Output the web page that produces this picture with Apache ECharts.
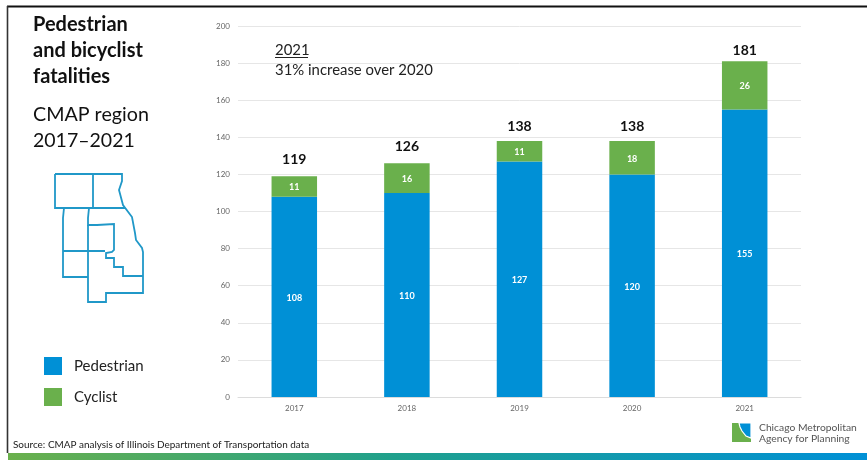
<!DOCTYPE html>
<html>
<head>
<meta charset="utf-8">
<style>html,body{margin:0;padding:0;background:#fff}#chart{width:867px;height:460px}</style>
<script src="https://cdn.jsdelivr.net/npm/echarts@6/dist/echarts.min.js"></script>
</head>
<body>
<div id="chart"></div>
<script>
// Pedestrian and cyclist fatalities by year, CMAP region
const years = ['2017', '2018', '2019', '2020', '2021'];
const pedestrian = [108, 110, 127, 120, 155];
const cyclist = [11, 16, 11, 18, 26];
const totals = [119, 126, 138, 138, 181];
const yTicks = { min: 0, max: 200, interval: 20 };

// Gap between each bar top and its total label
const totalLabelGaps = [9, 9, 7, 7, 3];

const FONT = 'Lato, "Open Sans", sans-serif';
const BLUE = '#0090d6';
const GREEN = '#6ab04c';
const MAP_BLUE = '#2098c8';

// County outlines of the seven-county region
const countyLines = [
  [[55,174],[122,174],[122,181],[119,190],[123,205],[132,217],[135,233],[136,240],[142,248],[143,252],[143,293],[106,293],[106,302],[88,302],[88,225]],
  [[93,174],[93,208]],
  [[55,174],[55,208],[125,208]],
  [[64,208],[63,218],[63,277],[88,277]],
  [[63,251],[105,251]],
  [[89,208],[88,218],[88,225],[97,225],[114,224],[114,250],[112,252],[106,253],[106,258],[114,258],[114,267],[123,267],[123,276],[143,276]]
];

const mapGraphics = countyLines.map(points => ({
  type: 'polyline',
  silent: true,
  shape: { points },
  style: { stroke: MAP_BLUE, lineWidth: 1.8, fill: null }
}));

const textBlock = (x, y, text, size, weight, fill) => ({
  type: 'text', x, y, silent: true,
  style: { text, font: `${weight} ${size}px ${FONT}`, fill: fill || '#111', textVerticalAlign: 'middle' }
});

const calloutShadow = { shadowBlur: 3, shadowColor: 'rgba(0,0,0,.45)', shadowOffsetX: 1, shadowOffsetY: 1 };

const chart = echarts.init(document.getElementById('chart'), null, { renderer: 'canvas' });
chart.setOption({
  animation: false,
  backgroundColor: '#fff',
  textStyle: { fontFamily: FONT },
  grid: { left: 238, right: 66, top: 26, bottom: 63 },
  legend: {
    data: ['Pedestrian', 'Cyclist'],
    orient: 'vertical',
    left: 44, top: 357,
    padding: 0,
    itemWidth: 18, itemHeight: 18, itemGap: 13,
    icon: 'rect',
    selectedMode: false,
    textStyle: { fontSize: 15, color: '#222', padding: [0, 0, 0, 7], fontFamily: FONT }
  },
  xAxis: {
    type: 'category', data: years,
    axisLine: { lineStyle: { color: '#dcdcdc' } },
    axisTick: { show: false },
    axisLabel: { fontSize: 8, color: '#666', margin: 7 }
  },
  yAxis: {
    type: 'value', ...yTicks,
    axisLine: { show: false },
    axisTick: { show: false },
    axisLabel: { fontSize: 8, color: '#666', margin: 8 },
    splitLine: { lineStyle: { color: '#e6e6e6' } }
  },
  series: [
    {
      name: 'Pedestrian', type: 'bar', stack: 'n', data: pedestrian, barWidth: 45.5,
      itemStyle: { color: BLUE },
      label: { show: true, position: 'inside', offset: [0, 1], color: '#fff', fontSize: 9, fontWeight: 'bold' }
    },
    {
      name: 'Cyclist', type: 'bar', stack: 'n', data: cyclist, barWidth: 45.5,
      itemStyle: { color: GREEN },
      label: { show: true, position: 'inside', offset: [0, 1], color: '#fff', fontSize: 9, fontWeight: 'bold' }
    },
    {
      name: 'Total', type: 'line',
      data: totals.map((value, i) => ({ value, label: { distance: totalLabelGaps[i] } })),
      symbol: 'circle', symbolSize: 1, showSymbol: true,
      itemStyle: { color: 'rgba(0,0,0,0)' },
      lineStyle: { opacity: 0 }, silent: true,
      label: { show: true, position: 'top', color: '#111', fontSize: 14, fontWeight: 'bold' }
    }
  ],
  graphic: [
    // slide frame
    { type: 'line', silent: true, shape: { x1: 7, y1: 6.5, x2: 867, y2: 6.5 }, style: { stroke: '#111', lineWidth: 2 } },
    { type: 'line', silent: true, shape: { x1: 7.5, y1: 6, x2: 7.5, y2: 453 }, style: { stroke: '#333', lineWidth: 1.6 } },
    // footer band
    { type: 'rect', silent: true, shape: { x: 8, y: 453, width: 859, height: 7 },
      style: { fill: new echarts.graphic.LinearGradient(0, 0, 1, 0, [
        { offset: 0, color: '#6ab04c' }, { offset: 0.45, color: '#1fa08c' }, { offset: 1, color: '#0090d6' }
      ]) } },
    // heading
    textBlock(33, 25, 'Pedestrian', 20, 'bold'),
    textBlock(33, 51, 'and bicyclist', 20, 'bold'),
    textBlock(33, 77, 'fatalities', 20, 'bold'),
    textBlock(33, 115, 'CMAP region', 19.7, 'normal'),
    textBlock(33, 141, '2017–2021', 19.5, 'normal'),
    // callout
    { type: 'text', x: 275, y: 50, silent: true, style: { text: '2021', font: `14.9px ${FONT}`, fill: '#222', textVerticalAlign: 'middle', ...calloutShadow } },
    { type: 'line', silent: true, shape: { x1: 275, y1: 57.5, x2: 308, y2: 57.5 }, style: { stroke: '#222', lineWidth: 1 } },
    { type: 'text', x: 275, y: 70, silent: true, style: { text: '31% increase over 2020', font: `14.9px ${FONT}`, fill: '#222', textVerticalAlign: 'middle', ...calloutShadow } },
    // source note
    textBlock(13, 445, 'Source: CMAP analysis of Illinois Department of Transportation data', 9.95, 'normal', '#222'),
    // agency logo
    { type: 'rect', silent: true, shape: { x: 732, y: 423, width: 19, height: 19 }, style: { fill: GREEN } },
    { type: 'polygon', silent: true, shape: { points: [[739,423],[751,423],[751,438],[746,436],[742,431],[740,427]] }, style: { fill: BLUE, stroke: '#fff', lineWidth: 1.2 } },
    textBlock(759, 428, 'Chicago Metropolitan', 10.3, 'normal', '#555'),
    textBlock(759, 439, 'Agency for Planning', 10.3, 'normal', '#555'),
    ...mapGraphics
  ]
});
</script>
</body>
</html>
